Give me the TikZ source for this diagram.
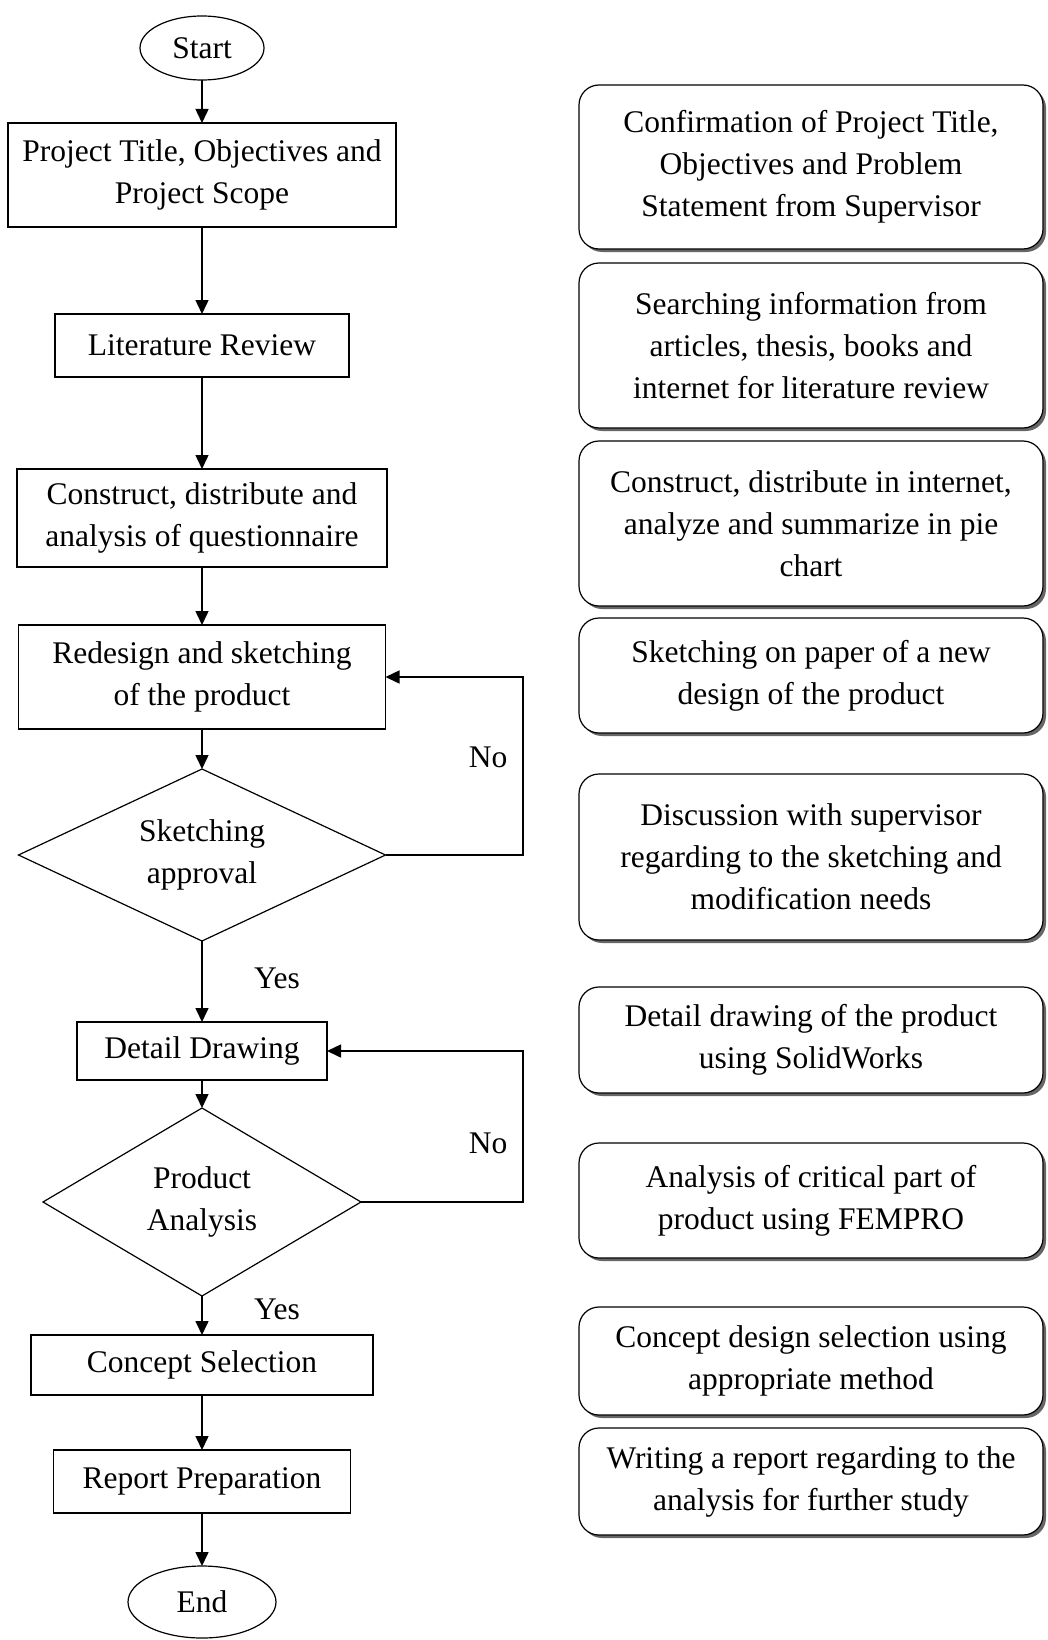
\documentclass[tikz,border=0pt]{standalone}
\usepackage{fontspec}
\setmainfont{Liberation Serif}
\usetikzlibrary{arrows.meta,positioning,shapes.geometric,shadows}
\tikzset{terminal/.style={ellipse,draw,line width=1.2pt,inner sep=0pt,outer sep=0pt}}
\tikzset{process/.style={rectangle,draw,line width=1.2pt,align=center,inner sep=2pt,outer sep=0pt}}
\tikzset{decision/.style={diamond,draw,line width=1.2pt,align=center,inner sep=0pt,outer sep=0pt}}
\tikzset{note/.style={rectangle,rounded corners=20pt,draw,fill=white,line width=1.2pt,align=center,minimum width=464pt,outer sep=0pt,drop shadow={shadow xshift=3pt,shadow yshift=-3pt,fill=black!60,opacity=1}}}
\tikzset{toArrow/.style={-{Triangle[length=14pt,width=13pt]},line width=1.5pt}}

\begin{document}
\begin{tikzpicture}[x=1pt,y=1pt,every node/.style={font=\fontsize{31.5}{42}\selectfont}]
\useasboundingbox (0,0) rectangle (1048,-1640);
% main flow
\node (start) [terminal, minimum width=124pt, minimum height=64pt] at (202,-48) {Start};
\node (title) [process, below=43pt of start, minimum width=388pt, minimum height=104pt] {Project Title, Objectives and\\Project Scope};
\node (litrev) [process, below=87pt of title, minimum width=294pt, minimum height=63pt] {Literature Review};
\node (survey) [process, below=92pt of litrev, minimum width=370pt, minimum height=98pt] {Construct, distribute and\\analysis of questionnaire};
\node (redesign) [process, below=58pt of survey, minimum width=367pt, minimum height=104pt] {Redesign and sketching\\of the product};
\node (sketchok) [decision, aspect=2.13, below=40pt of redesign, minimum width=367pt, minimum height=172pt] {Sketching\\approval};
\node (detail) [process, below=81pt of sketchok, minimum width=250pt, minimum height=58pt] {Detail Drawing};
\node (analysis) [decision, aspect=1.69, below=28pt of detail, minimum width=318pt, minimum height=188pt] {Product\\Analysis};
\node (concept) [process, below=39pt of analysis, minimum width=342pt, minimum height=60pt] {Concept Selection};
\node (report) [process, below=55pt of concept, minimum width=297pt, minimum height=63pt] {Report Preparation};
\node (finish) [terminal, below=53pt of report, minimum width=148pt, minimum height=72pt] {End};

\draw[toArrow] (start) -- (title);
\draw[toArrow] (title) -- (litrev);
\draw[toArrow] (litrev) -- (survey);
\draw[toArrow] (survey) -- (redesign);
\draw[toArrow] (redesign) -- (sketchok);
\draw[toArrow] (sketchok) -- (detail);
\draw[toArrow] (detail) -- (analysis);
\draw[toArrow] (analysis) -- (concept);
\draw[toArrow] (concept) -- (report);
\draw[toArrow] (report) -- (finish);

% feedback loops
\coordinate (loopone) at (523,-767);
\coordinate (looptwo) at (523,-1123);
\draw[toArrow] (sketchok.east) -- (sketchok.east -| loopone) |- (redesign.east);
\draw[toArrow] (analysis.east) -- (analysis.east -| looptwo) |- (detail.east);
\node (noone) at (488,-757) {No};
\node (notwo) at (488,-1143) {No};
\node (yesone) at (277,-978) {Yes};
\node (yestwo) at (277,-1309) {Yes};

% notes on the right
\node (confirm) [note, minimum height=164pt] at (811,-167) {Confirmation of Project Title,\\Objectives and Problem\\Statement from Supervisor};
\node (search) [note, below=14pt of confirm, minimum height=165pt] {Searching information from\\articles, thesis, books and\\internet for literature review};
\node (piechart) [note, below=13pt of search, minimum height=165pt] {Construct, distribute in internet,\\analyze and summarize in pie\\chart};
\node (paper) [note, below=12pt of piechart, minimum height=115pt] {Sketching on paper of a new\\design of the product};
\node (discuss) [note, below=41pt of paper, minimum height=166pt] {Discussion with supervisor\\regarding to the sketching and\\modification needs};
\node (drawing) [note, below=47pt of discuss, minimum height=106pt] {Detail drawing of the product\\using SolidWorks};
\node (fempro) [note, below=50pt of drawing, minimum height=115pt] {Analysis of critical part of\\product using FEMPRO};
\node (selection) [note, below=49pt of fempro, minimum height=108pt] {Concept design selection using\\appropriate method};
\node (writing) [note, below=13pt of selection, minimum height=107pt] {Writing a report regarding to the\\analysis for further study};
\end{tikzpicture}
\end{document}
